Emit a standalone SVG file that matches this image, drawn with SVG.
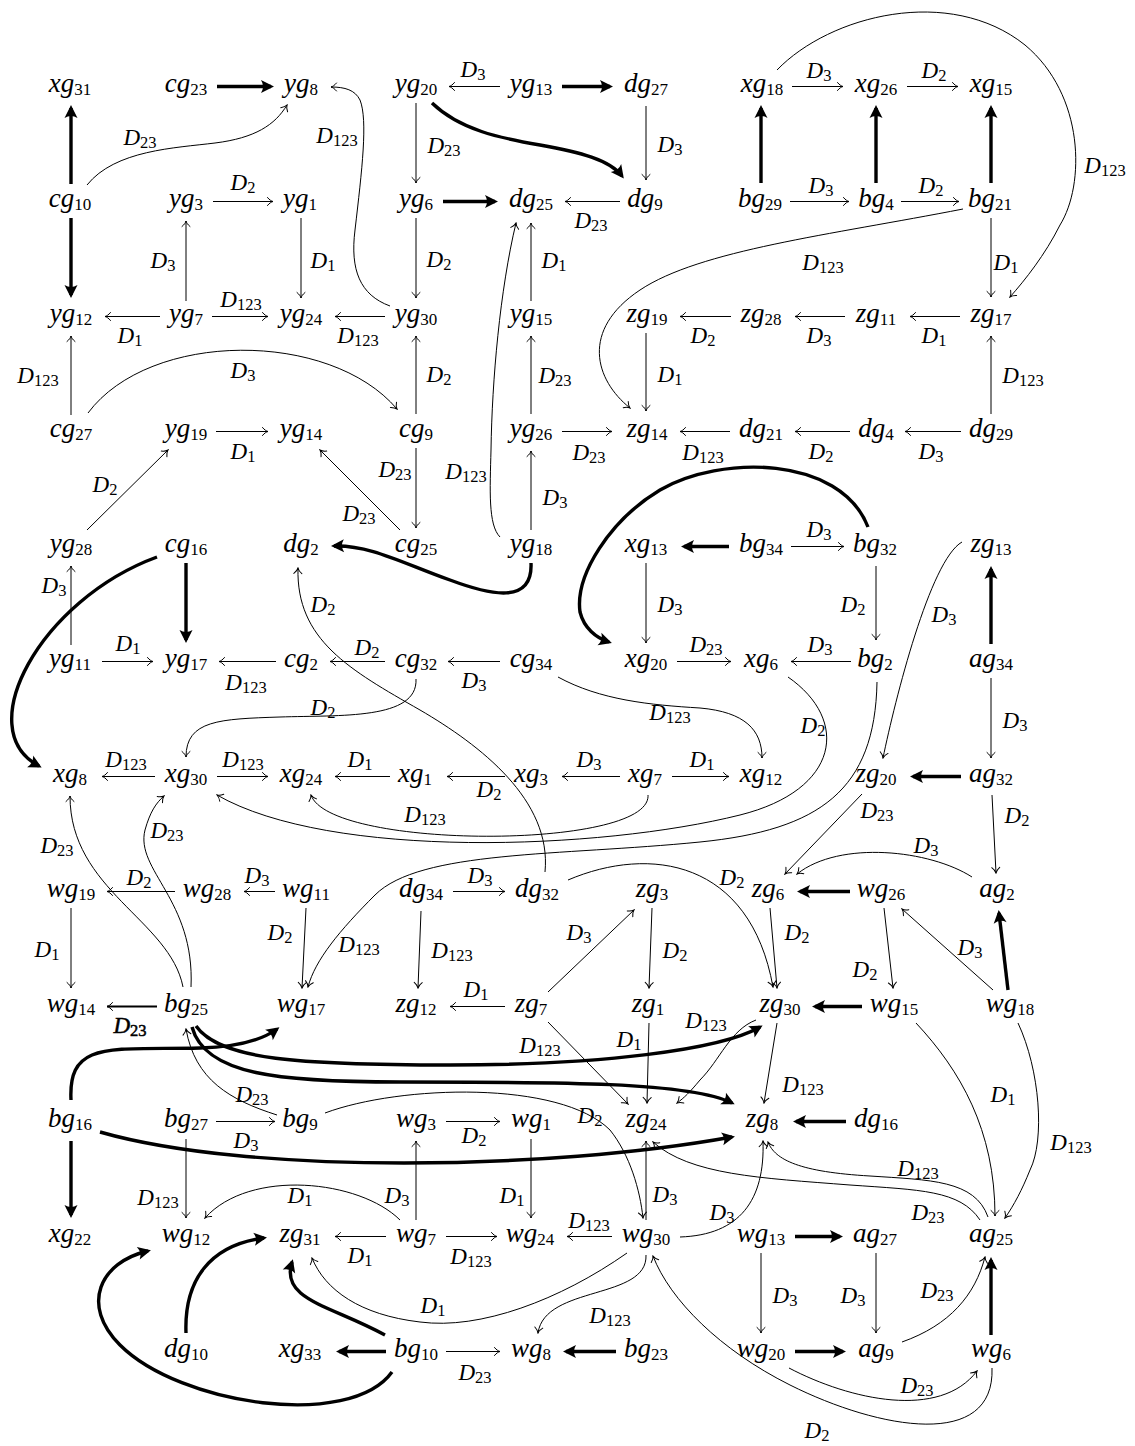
<svg xmlns="http://www.w3.org/2000/svg" width="1135" height="1446" viewBox="0 0 1135 1446">
<style>
.n{font-family:"Liberation Serif","Times New Roman",serif;font-style:italic;font-size:27px;text-anchor:middle;fill:#000}
.n tspan{font-style:normal;font-size:17px}
.l{font-family:"Liberation Serif","Times New Roman",serif;font-style:italic;font-size:23px;text-anchor:middle;fill:#000}
.l tspan{font-style:normal;font-size:16.5px}
.t{fill:none;stroke:#000;stroke-width:1;marker-end:url(#a)}
.m{fill:none;stroke:#000;stroke-width:1.8;marker-end:url(#a)}
.k{fill:none;stroke:#000;stroke-width:3.4;marker-end:url(#b)}
</style>
<defs>
<marker id="a" viewBox="-7 -5 8 10" refX="0" refY="0" markerWidth="8" markerHeight="10" orient="auto" markerUnits="userSpaceOnUse"><path d="M-5.5,-4 C-3.5,-1.5 -1.5,-0.4 0,0 C-1.5,0.4 -3.5,1.5 -5.5,4" fill="none" stroke="#000" stroke-width="1" stroke-linecap="round"/></marker>
<marker id="b" viewBox="-12 -8 16 16" refX="0" refY="0" markerWidth="16" markerHeight="16" orient="auto" markerUnits="userSpaceOnUse"><path d="M3,0 L-10,-6.5 Q-6,0 -10,6.5 Z" fill="#000"/></marker>
</defs>
<rect width="1135" height="1446" fill="#fff"/>
<g id="edges">
<path class="k" d="M71,184 L71,108"/>
<path class="k" d="M217,86.5 L271,86.5"/>
<path class="t" d="M87,185 C115,150 175,148 215,143 C255,138 275,125 287,105"/>
<path class="t" d="M390,306 C360,295 350,270 355,230 C362,170 368,120 360,100 C355,90 345,87 331,87"/>
<path class="t" d="M500,86.5 L449,86.5"/>
<path class="k" d="M562,86.5 L610,86.5"/>
<path class="k" d="M432,103 C460,130 500,138 540,145 C580,152 610,160 622,176"/>
<path class="t" d="M646,106 L646,180"/>
<path class="t" d="M416,103 L416,183"/>
<path class="t" d="M792,86.5 L843,86.5"/>
<path class="t" d="M907,86.5 L958,86.5"/>
<path class="k" d="M761,183 L761,108"/>
<path class="k" d="M876,183 L876,108"/>
<path class="k" d="M991,183 L991,108"/>
<path class="t" d="M777,70 C830,15 950,-15 1025,45 C1085,95 1085,185 1060,225 C1045,255 1025,280 1010,297"/>
<path class="t" d="M213,201.5 L273,201.5"/>
<path class="k" d="M443,201.5 L495,201.5"/>
<path class="t" d="M620,201.5 L565,201.5"/>
<path class="t" d="M790,201.5 L849,201.5"/>
<path class="t" d="M901,201.5 L959,201.5"/>
<path class="t" d="M963,209 C830,235 700,250 640,290 C580,330 595,380 630,408"/>
<path class="t" d="M301,218 L301,298"/>
<path class="t" d="M416,218 L416,298"/>
<path class="t" d="M186,301 L186,221"/>
<path class="k" d="M71,218 L71,295"/>
<path class="t" d="M531,301 L531,223"/>
<path class="t" d="M500,537 C488,525 490,490 491,450 C492,380 500,290 516,223"/>
<path class="t" d="M991,218 L991,297"/>
<path class="t" d="M160,316.5 L105,316.5"/>
<path class="t" d="M212,316.5 L268,316.5"/>
<path class="t" d="M385,316.5 L335,316.5"/>
<path class="t" d="M71,415 L71,336"/>
<path class="t" d="M88,413 C150,330 330,330 397,409"/>
<path class="t" d="M416,414 L416,336"/>
<path class="t" d="M531,414 L531,336"/>
<path class="t" d="M646,333 L646,411"/>
<path class="t" d="M731,316.5 L680,316.5"/>
<path class="t" d="M845,316.5 L795,316.5"/>
<path class="t" d="M960,316.5 L910,316.5"/>
<path class="t" d="M991,414 L991,336"/>
<path class="t" d="M216,431.5 L268,431.5"/>
<path class="t" d="M400,530 L320,450"/>
<path class="t" d="M416,448 L416,528"/>
<path class="t" d="M562,431.5 L612,431.5"/>
<path class="t" d="M730,431.5 L680,431.5"/>
<path class="t" d="M850,431.5 L795,431.5"/>
<path class="t" d="M961,431.5 L905,431.5"/>
<path class="t" d="M531,530 L531,451"/>
<path class="t" d="M87,530 L168,450"/>
<path class="t" d="M71,645 L71,566"/>
<path class="k" d="M186,563 L186,640"/>
<path class="k" d="M157,557 C40,600 -30,730 39,766"/>
<path class="k" d="M531,563 C533,605 490,595 450,580 C400,562 370,545 334,546"/>
<path class="k" d="M729,546.5 L684,546.5"/>
<path class="t" d="M791,546.5 L844,546.5"/>
<path class="k" d="M868,527 C840,455 720,455 660,490 C610,520 575,575 580,612 C584,628 596,638 609,642"/>
<path class="t" d="M646,563 L646,643"/>
<path class="t" d="M876,566 L876,640"/>
<path class="k" d="M991,644 L991,569"/>
<path class="t" d="M962,542 C930,560 895,700 883,758"/>
<path class="t" d="M102,661.5 L153,661.5"/>
<path class="t" d="M276,661.5 L219,661.5"/>
<path class="t" d="M385,661.5 L330,661.5"/>
<path class="t" d="M500,661.5 L448,661.5"/>
<path class="t" d="M677,661.5 L731,661.5"/>
<path class="t" d="M851,661.5 L791,661.5"/>
<path class="t" d="M991,678 L991,758"/>
<path class="t" d="M558,677 C600,700 650,705 700,708 C745,712 762,730 762,758"/>
<path class="t" d="M545,872 C552,800 480,745 420,710 C350,670 296,640 298,568"/>
<path class="t" d="M416,679 C418,720 340,715 280,717 C220,719 186,720 186,757"/>
<path class="t" d="M155,776.5 L102,776.5"/>
<path class="t" d="M217,776.5 L268,776.5"/>
<path class="t" d="M390,776.5 L335,776.5"/>
<path class="t" d="M505,776.5 L447,776.5"/>
<path class="t" d="M620,776.5 L562,776.5"/>
<path class="t" d="M672,776.5 L729,776.5"/>
<path class="k" d="M961,776.5 L913,776.5"/>
<path class="t" d="M648,795 C652,850 330,850 311,795"/>
<path class="t" d="M788,677 C850,720 840,790 740,815 C600,850 330,860 217,795"/>
<path class="t" d="M877,682 C875,790 820,830 700,842 C560,856 420,850 375,895 C340,930 315,960 308,987"/>
<path class="t" d="M992,795 L996,873"/>
<path class="t" d="M862,794 L785,874"/>
<path class="t" d="M175,891.5 L107,891.5"/>
<path class="t" d="M275,891.5 L244,891.5"/>
<path class="t" d="M71,908 L71,988"/>
<path class="t" d="M306,908 L302,988"/>
<path class="t" d="M453,891.5 L505,891.5"/>
<path class="t" d="M421,911 L418,988"/>
<path class="t" d="M652,908 L649,988"/>
<path class="t" d="M548,992 L634,910"/>
<path class="k" d="M850,891.5 L800,891.5"/>
<path class="t" d="M972,877 C930,850 840,840 797,874"/>
<path class="t" d="M568,880 C650,845 750,860 773,987"/>
<path class="t" d="M770,908 L777,988"/>
<path class="t" d="M884,908 L893,988"/>
<path class="t" d="M993,990 L902,909"/>
<path class="k" d="M1008,990 L999,913"/>
<path class="t" d="M183,987 C170,920 70,890 70,796"/>
<path class="t" d="M191,987 C195,900 135,870 145,830 C150,812 156,803 164,796"/>
<path class="m" d="M157,1006.5 L107,1006.5"/>
<path class="t" d="M505,1006.5 L450,1006.5"/>
<path class="t" d="M649,1023 L647,1103"/>
<path class="t" d="M548,1022 L628,1104"/>
<path class="t" d="M756,1020 C730,1030 720,1060 700,1080 C690,1092 684,1098 677,1103"/>
<path class="k" d="M862,1006.5 L815,1006.5"/>
<path class="t" d="M777,1023 L764,1103"/>
<path class="t" d="M916,1023 C960,1070 995,1130 995,1216"/>
<path class="t" d="M1018,1023 C1040,1070 1045,1140 1030,1170 C1022,1190 1014,1205 1005,1218"/>
<path class="k" d="M196,1026 C220,1060 300,1065 450,1065 C600,1065 720,1050 760,1027"/>
<path class="k" d="M192,1027 C205,1075 280,1082 400,1082 C560,1082 690,1082 732,1103"/>
<path class="k" d="M71,1100 C68,1040 110,1050 200,1048 C240,1047 262,1040 277,1029"/>
<path class="t" d="M277,1115 C230,1100 195,1080 186,1029"/>
<path class="t" d="M216,1121.5 L275,1121.5"/>
<path class="t" d="M325,1113 C400,1085 560,1080 610,1130 C630,1155 640,1190 643,1218"/>
<path class="k" d="M100,1132 C250,1175 550,1170 732,1137"/>
<path class="k" d="M71,1141 L71,1215"/>
<path class="t" d="M186,1139 L186,1218"/>
<path class="t" d="M446,1121.5 L500,1121.5"/>
<path class="t" d="M416,1220 L416,1141"/>
<path class="t" d="M531,1139 L531,1218"/>
<path class="t" d="M646,1220 L646,1141"/>
<path class="t" d="M680,1237 C740,1235 765,1200 763,1141"/>
<path class="k" d="M846,1121.5 L796,1121.5"/>
<path class="t" d="M988,1217 C975,1180 930,1180 870,1176 C800,1172 775,1160 768,1142"/>
<path class="t" d="M980,1220 C960,1190 920,1190 850,1185 C760,1178 690,1175 653,1142"/>
<path class="t" d="M386,1236.5 L335,1236.5"/>
<path class="t" d="M446,1236.5 L497,1236.5"/>
<path class="t" d="M612,1236.5 L567,1236.5"/>
<path class="k" d="M795,1236.5 L840,1236.5"/>
<path class="t" d="M400,1220 C360,1180 250,1168 205,1218"/>
<path class="t" d="M627,1253 C560,1300 480,1330 420,1322 C360,1315 325,1290 312,1258"/>
<path class="t" d="M646,1255 C648,1300 545,1285 538,1333"/>
<path class="t" d="M761,1253 L761,1333"/>
<path class="t" d="M876,1253 L876,1333"/>
<path class="k" d="M991,1335 L991,1260"/>
<path class="t" d="M902,1342 C950,1325 975,1295 985,1257"/>
<path class="k" d="M795,1351.5 L843,1351.5"/>
<path class="t" d="M789,1368 C850,1400 940,1420 977,1371"/>
<path class="t" d="M992,1368 C995,1450 880,1430 790,1385 C720,1350 670,1300 653,1256"/>
<path class="k" d="M386,1351.5 L339,1351.5"/>
<path class="t" d="M446,1351.5 L500,1351.5"/>
<path class="k" d="M616,1351.5 L566,1351.5"/>
<path class="k" d="M385,1335 C330,1305 280,1300 292,1262"/>
<path class="k" d="M392,1372 C350,1430 180,1405 120,1345 C80,1305 100,1262 148,1251"/>
<path class="k" d="M186,1333 C184,1280 210,1245 264,1238"/>
</g>
<g id="labels">
<text class="l" x="140" y="145">D<tspan dy="3">23</tspan></text>
<text class="l" x="337" y="143">D<tspan dy="3">123</tspan></text>
<text class="l" x="473" y="77">D<tspan dy="3">3</tspan></text>
<text class="l" x="670" y="152">D<tspan dy="3">3</tspan></text>
<text class="l" x="444" y="153">D<tspan dy="3">23</tspan></text>
<text class="l" x="819" y="78">D<tspan dy="3">3</tspan></text>
<text class="l" x="934" y="78">D<tspan dy="3">2</tspan></text>
<text class="l" x="1105" y="173">D<tspan dy="3">123</tspan></text>
<text class="l" x="243" y="190">D<tspan dy="3">2</tspan></text>
<text class="l" x="591" y="228">D<tspan dy="3">23</tspan></text>
<text class="l" x="821" y="193">D<tspan dy="3">3</tspan></text>
<text class="l" x="931" y="193">D<tspan dy="3">2</tspan></text>
<text class="l" x="823" y="270">D<tspan dy="3">123</tspan></text>
<text class="l" x="323" y="268">D<tspan dy="3">1</tspan></text>
<text class="l" x="439" y="267">D<tspan dy="3">2</tspan></text>
<text class="l" x="163" y="268">D<tspan dy="3">3</tspan></text>
<text class="l" x="554" y="268">D<tspan dy="3">1</tspan></text>
<text class="l" x="466" y="479">D<tspan dy="3">123</tspan></text>
<text class="l" x="1006" y="270">D<tspan dy="3">1</tspan></text>
<text class="l" x="130" y="343">D<tspan dy="3">1</tspan></text>
<text class="l" x="241" y="307">D<tspan dy="3">123</tspan></text>
<text class="l" x="358" y="343">D<tspan dy="3">123</tspan></text>
<text class="l" x="38" y="383">D<tspan dy="3">123</tspan></text>
<text class="l" x="243" y="378">D<tspan dy="3">3</tspan></text>
<text class="l" x="439" y="382">D<tspan dy="3">2</tspan></text>
<text class="l" x="555" y="383">D<tspan dy="3">23</tspan></text>
<text class="l" x="670" y="382">D<tspan dy="3">1</tspan></text>
<text class="l" x="703" y="343">D<tspan dy="3">2</tspan></text>
<text class="l" x="819" y="343">D<tspan dy="3">3</tspan></text>
<text class="l" x="934" y="343">D<tspan dy="3">1</tspan></text>
<text class="l" x="1023" y="383">D<tspan dy="3">123</tspan></text>
<text class="l" x="243" y="459">D<tspan dy="3">1</tspan></text>
<text class="l" x="359" y="521">D<tspan dy="3">23</tspan></text>
<text class="l" x="395" y="477">D<tspan dy="3">23</tspan></text>
<text class="l" x="589" y="460">D<tspan dy="3">23</tspan></text>
<text class="l" x="703" y="460">D<tspan dy="3">123</tspan></text>
<text class="l" x="821" y="459">D<tspan dy="3">2</tspan></text>
<text class="l" x="931" y="459">D<tspan dy="3">3</tspan></text>
<text class="l" x="555" y="505">D<tspan dy="3">3</tspan></text>
<text class="l" x="105" y="492">D<tspan dy="3">2</tspan></text>
<text class="l" x="54" y="593">D<tspan dy="3">3</tspan></text>
<text class="l" x="819" y="537">D<tspan dy="3">3</tspan></text>
<text class="l" x="670" y="612">D<tspan dy="3">3</tspan></text>
<text class="l" x="853" y="612">D<tspan dy="3">2</tspan></text>
<text class="l" x="944" y="622">D<tspan dy="3">3</tspan></text>
<text class="l" x="128" y="651">D<tspan dy="3">1</tspan></text>
<text class="l" x="246" y="690">D<tspan dy="3">123</tspan></text>
<text class="l" x="367" y="655">D<tspan dy="3">2</tspan></text>
<text class="l" x="474" y="688">D<tspan dy="3">3</tspan></text>
<text class="l" x="706" y="652">D<tspan dy="3">23</tspan></text>
<text class="l" x="820" y="652">D<tspan dy="3">3</tspan></text>
<text class="l" x="1015" y="728">D<tspan dy="3">3</tspan></text>
<text class="l" x="670" y="720">D<tspan dy="3">123</tspan></text>
<text class="l" x="323" y="612">D<tspan dy="3">2</tspan></text>
<text class="l" x="323" y="715">D<tspan dy="3">2</tspan></text>
<text class="l" x="126" y="767">D<tspan dy="3">123</tspan></text>
<text class="l" x="243" y="767">D<tspan dy="3">123</tspan></text>
<text class="l" x="360" y="767">D<tspan dy="3">1</tspan></text>
<text class="l" x="489" y="797">D<tspan dy="3">2</tspan></text>
<text class="l" x="589" y="767">D<tspan dy="3">3</tspan></text>
<text class="l" x="702" y="767">D<tspan dy="3">1</tspan></text>
<text class="l" x="425" y="822">D<tspan dy="3">123</tspan></text>
<text class="l" x="813" y="733">D<tspan dy="3">2</tspan></text>
<text class="l" x="359" y="952">D<tspan dy="3">123</tspan></text>
<text class="l" x="1017" y="823">D<tspan dy="3">2</tspan></text>
<text class="l" x="877" y="818">D<tspan dy="3">23</tspan></text>
<text class="l" x="139" y="885">D<tspan dy="3">2</tspan></text>
<text class="l" x="257" y="883">D<tspan dy="3">3</tspan></text>
<text class="l" x="47" y="957">D<tspan dy="3">1</tspan></text>
<text class="l" x="280" y="940">D<tspan dy="3">2</tspan></text>
<text class="l" x="480" y="883">D<tspan dy="3">3</tspan></text>
<text class="l" x="452" y="958">D<tspan dy="3">123</tspan></text>
<text class="l" x="675" y="958">D<tspan dy="3">2</tspan></text>
<text class="l" x="579" y="940">D<tspan dy="3">3</tspan></text>
<text class="l" x="926" y="853">D<tspan dy="3">3</tspan></text>
<text class="l" x="732" y="885">D<tspan dy="3">2</tspan></text>
<text class="l" x="797" y="940">D<tspan dy="3">2</tspan></text>
<text class="l" x="865" y="977">D<tspan dy="3">2</tspan></text>
<text class="l" x="970" y="955">D<tspan dy="3">3</tspan></text>
<text class="l" x="57" y="853">D<tspan dy="3">23</tspan></text>
<text class="l" x="167" y="838">D<tspan dy="3">23</tspan></text>
<text class="l" x="130" y="1033" stroke="#000" stroke-width="0.5">D<tspan dy="3">23</tspan></text>
<text class="l" x="476" y="997">D<tspan dy="3">1</tspan></text>
<text class="l" x="629" y="1047">D<tspan dy="3">1</tspan></text>
<text class="l" x="540" y="1053">D<tspan dy="3">123</tspan></text>
<text class="l" x="706" y="1028">D<tspan dy="3">123</tspan></text>
<text class="l" x="803" y="1092">D<tspan dy="3">123</tspan></text>
<text class="l" x="1003" y="1102">D<tspan dy="3">1</tspan></text>
<text class="l" x="1071" y="1150">D<tspan dy="3">123</tspan></text>
<text class="l" x="252" y="1102">D<tspan dy="3">23</tspan></text>
<text class="l" x="246" y="1148">D<tspan dy="3">3</tspan></text>
<text class="l" x="590" y="1123">D<tspan dy="3">2</tspan></text>
<text class="l" x="158" y="1205">D<tspan dy="3">123</tspan></text>
<text class="l" x="474" y="1143">D<tspan dy="3">2</tspan></text>
<text class="l" x="397" y="1203">D<tspan dy="3">3</tspan></text>
<text class="l" x="512" y="1203">D<tspan dy="3">1</tspan></text>
<text class="l" x="665" y="1202">D<tspan dy="3">3</tspan></text>
<text class="l" x="722" y="1220">D<tspan dy="3">3</tspan></text>
<text class="l" x="918" y="1176">D<tspan dy="3">123</tspan></text>
<text class="l" x="928" y="1220">D<tspan dy="3">23</tspan></text>
<text class="l" x="360" y="1263">D<tspan dy="3">1</tspan></text>
<text class="l" x="471" y="1264">D<tspan dy="3">123</tspan></text>
<text class="l" x="589" y="1228">D<tspan dy="3">123</tspan></text>
<text class="l" x="300" y="1203">D<tspan dy="3">1</tspan></text>
<text class="l" x="433" y="1313">D<tspan dy="3">1</tspan></text>
<text class="l" x="610" y="1323">D<tspan dy="3">123</tspan></text>
<text class="l" x="785" y="1303">D<tspan dy="3">3</tspan></text>
<text class="l" x="853" y="1303">D<tspan dy="3">3</tspan></text>
<text class="l" x="937" y="1298">D<tspan dy="3">23</tspan></text>
<text class="l" x="917" y="1393">D<tspan dy="3">23</tspan></text>
<text class="l" x="817" y="1438">D<tspan dy="3">2</tspan></text>
<text class="l" x="475" y="1380">D<tspan dy="3">23</tspan></text>
</g>
<g id="n-xg31"><text class="n" x="70" y="92">xg<tspan dy="3">31</tspan></text></g>
<g id="n-cg23"><text class="n" x="186" y="92">cg<tspan dy="3">23</tspan></text></g>
<g id="n-yg8"><text class="n" x="301" y="92">yg<tspan dy="3">8</tspan></text></g>
<g id="n-yg20"><text class="n" x="416" y="92">yg<tspan dy="3">20</tspan></text></g>
<g id="n-yg13"><text class="n" x="531" y="92">yg<tspan dy="3">13</tspan></text></g>
<g id="n-dg27"><text class="n" x="646" y="92">dg<tspan dy="3">27</tspan></text></g>
<g id="n-xg18"><text class="n" x="762" y="92">xg<tspan dy="3">18</tspan></text></g>
<g id="n-xg26"><text class="n" x="876" y="92">xg<tspan dy="3">26</tspan></text></g>
<g id="n-xg15"><text class="n" x="991" y="92">xg<tspan dy="3">15</tspan></text></g>
<g id="n-cg10"><text class="n" x="70" y="207">cg<tspan dy="3">10</tspan></text></g>
<g id="n-yg3"><text class="n" x="186" y="207">yg<tspan dy="3">3</tspan></text></g>
<g id="n-yg1"><text class="n" x="300" y="207">yg<tspan dy="3">1</tspan></text></g>
<g id="n-yg6"><text class="n" x="416" y="207">yg<tspan dy="3">6</tspan></text></g>
<g id="n-dg25"><text class="n" x="531" y="207">dg<tspan dy="3">25</tspan></text></g>
<g id="n-dg9"><text class="n" x="645" y="207">dg<tspan dy="3">9</tspan></text></g>
<g id="n-bg29"><text class="n" x="760" y="207">bg<tspan dy="3">29</tspan></text></g>
<g id="n-bg4"><text class="n" x="876" y="207">bg<tspan dy="3">4</tspan></text></g>
<g id="n-bg21"><text class="n" x="990" y="207">bg<tspan dy="3">21</tspan></text></g>
<g id="n-yg12"><text class="n" x="71" y="322">yg<tspan dy="3">12</tspan></text></g>
<g id="n-yg7"><text class="n" x="186" y="322">yg<tspan dy="3">7</tspan></text></g>
<g id="n-yg24"><text class="n" x="301" y="322">yg<tspan dy="3">24</tspan></text></g>
<g id="n-yg30"><text class="n" x="416" y="322">yg<tspan dy="3">30</tspan></text></g>
<g id="n-yg15"><text class="n" x="531" y="322">yg<tspan dy="3">15</tspan></text></g>
<g id="n-zg19"><text class="n" x="647" y="322">zg<tspan dy="3">19</tspan></text></g>
<g id="n-zg28"><text class="n" x="761" y="322">zg<tspan dy="3">28</tspan></text></g>
<g id="n-zg11"><text class="n" x="876" y="322">zg<tspan dy="3">11</tspan></text></g>
<g id="n-zg17"><text class="n" x="991" y="322">zg<tspan dy="3">17</tspan></text></g>
<g id="n-cg27"><text class="n" x="71" y="437">cg<tspan dy="3">27</tspan></text></g>
<g id="n-yg19"><text class="n" x="186" y="437">yg<tspan dy="3">19</tspan></text></g>
<g id="n-yg14"><text class="n" x="301" y="437">yg<tspan dy="3">14</tspan></text></g>
<g id="n-cg9"><text class="n" x="416" y="437">cg<tspan dy="3">9</tspan></text></g>
<g id="n-yg26"><text class="n" x="531" y="437">yg<tspan dy="3">26</tspan></text></g>
<g id="n-zg14"><text class="n" x="647" y="437">zg<tspan dy="3">14</tspan></text></g>
<g id="n-dg21"><text class="n" x="761" y="437">dg<tspan dy="3">21</tspan></text></g>
<g id="n-dg4"><text class="n" x="876" y="437">dg<tspan dy="3">4</tspan></text></g>
<g id="n-dg29"><text class="n" x="991" y="437">dg<tspan dy="3">29</tspan></text></g>
<g id="n-yg28"><text class="n" x="71" y="552">yg<tspan dy="3">28</tspan></text></g>
<g id="n-cg16"><text class="n" x="186" y="552">cg<tspan dy="3">16</tspan></text></g>
<g id="n-dg2"><text class="n" x="301" y="552">dg<tspan dy="3">2</tspan></text></g>
<g id="n-cg25"><text class="n" x="416" y="552">cg<tspan dy="3">25</tspan></text></g>
<g id="n-yg18"><text class="n" x="531" y="552">yg<tspan dy="3">18</tspan></text></g>
<g id="n-xg13"><text class="n" x="646" y="552">xg<tspan dy="3">13</tspan></text></g>
<g id="n-bg34"><text class="n" x="761" y="552">bg<tspan dy="3">34</tspan></text></g>
<g id="n-bg32"><text class="n" x="875" y="552">bg<tspan dy="3">32</tspan></text></g>
<g id="n-zg13"><text class="n" x="991" y="552">zg<tspan dy="3">13</tspan></text></g>
<g id="n-yg11"><text class="n" x="70" y="667">yg<tspan dy="3">11</tspan></text></g>
<g id="n-yg17"><text class="n" x="186" y="667">yg<tspan dy="3">17</tspan></text></g>
<g id="n-cg2"><text class="n" x="301" y="667">cg<tspan dy="3">2</tspan></text></g>
<g id="n-cg32"><text class="n" x="416" y="667">cg<tspan dy="3">32</tspan></text></g>
<g id="n-cg34"><text class="n" x="531" y="667">cg<tspan dy="3">34</tspan></text></g>
<g id="n-xg20"><text class="n" x="646" y="667">xg<tspan dy="3">20</tspan></text></g>
<g id="n-xg6"><text class="n" x="761" y="667">xg<tspan dy="3">6</tspan></text></g>
<g id="n-bg2"><text class="n" x="875" y="667">bg<tspan dy="3">2</tspan></text></g>
<g id="n-ag34"><text class="n" x="991" y="667">ag<tspan dy="3">34</tspan></text></g>
<g id="n-xg8"><text class="n" x="70" y="782">xg<tspan dy="3">8</tspan></text></g>
<g id="n-xg30"><text class="n" x="186" y="782">xg<tspan dy="3">30</tspan></text></g>
<g id="n-xg24"><text class="n" x="301" y="782">xg<tspan dy="3">24</tspan></text></g>
<g id="n-xg1"><text class="n" x="415" y="782">xg<tspan dy="3">1</tspan></text></g>
<g id="n-xg3"><text class="n" x="531" y="782">xg<tspan dy="3">3</tspan></text></g>
<g id="n-xg7"><text class="n" x="645" y="782">xg<tspan dy="3">7</tspan></text></g>
<g id="n-xg12"><text class="n" x="761" y="782">xg<tspan dy="3">12</tspan></text></g>
<g id="n-zg20"><text class="n" x="876" y="782">zg<tspan dy="3">20</tspan></text></g>
<g id="n-ag32"><text class="n" x="991" y="782">ag<tspan dy="3">32</tspan></text></g>
<g id="n-wg19"><text class="n" x="71" y="897">wg<tspan dy="3">19</tspan></text></g>
<g id="n-wg28"><text class="n" x="207" y="897">wg<tspan dy="3">28</tspan></text></g>
<g id="n-wg11"><text class="n" x="306" y="897">wg<tspan dy="3">11</tspan></text></g>
<g id="n-dg34"><text class="n" x="421" y="897">dg<tspan dy="3">34</tspan></text></g>
<g id="n-dg32"><text class="n" x="537" y="897">dg<tspan dy="3">32</tspan></text></g>
<g id="n-zg3"><text class="n" x="652" y="897">zg<tspan dy="3">3</tspan></text></g>
<g id="n-zg6"><text class="n" x="768" y="897">zg<tspan dy="3">6</tspan></text></g>
<g id="n-wg26"><text class="n" x="881" y="897">wg<tspan dy="3">26</tspan></text></g>
<g id="n-ag2"><text class="n" x="997" y="897">ag<tspan dy="3">2</tspan></text></g>
<g id="n-wg14"><text class="n" x="71" y="1012">wg<tspan dy="3">14</tspan></text></g>
<g id="n-bg25"><text class="n" x="186" y="1012">bg<tspan dy="3">25</tspan></text></g>
<g id="n-wg17"><text class="n" x="301" y="1012">wg<tspan dy="3">17</tspan></text></g>
<g id="n-zg12"><text class="n" x="416" y="1012">zg<tspan dy="3">12</tspan></text></g>
<g id="n-zg7"><text class="n" x="531" y="1012">zg<tspan dy="3">7</tspan></text></g>
<g id="n-zg1"><text class="n" x="648" y="1012">zg<tspan dy="3">1</tspan></text></g>
<g id="n-zg30"><text class="n" x="780" y="1012">zg<tspan dy="3">30</tspan></text></g>
<g id="n-wg15"><text class="n" x="894" y="1012">wg<tspan dy="3">15</tspan></text></g>
<g id="n-wg18"><text class="n" x="1010" y="1012">wg<tspan dy="3">18</tspan></text></g>
<g id="n-bg16"><text class="n" x="70" y="1127">bg<tspan dy="3">16</tspan></text></g>
<g id="n-bg27"><text class="n" x="186" y="1127">bg<tspan dy="3">27</tspan></text></g>
<g id="n-bg9"><text class="n" x="300" y="1127">bg<tspan dy="3">9</tspan></text></g>
<g id="n-wg3"><text class="n" x="416" y="1127">wg<tspan dy="3">3</tspan></text></g>
<g id="n-wg1"><text class="n" x="531" y="1127">wg<tspan dy="3">1</tspan></text></g>
<g id="n-zg24"><text class="n" x="646" y="1127">zg<tspan dy="3">24</tspan></text></g>
<g id="n-zg8"><text class="n" x="762" y="1127">zg<tspan dy="3">8</tspan></text></g>
<g id="n-dg16"><text class="n" x="876" y="1127">dg<tspan dy="3">16</tspan></text></g>
<g id="n-xg22"><text class="n" x="70" y="1242">xg<tspan dy="3">22</tspan></text></g>
<g id="n-wg12"><text class="n" x="186" y="1242">wg<tspan dy="3">12</tspan></text></g>
<g id="n-zg31"><text class="n" x="300" y="1242">zg<tspan dy="3">31</tspan></text></g>
<g id="n-wg7"><text class="n" x="416" y="1242">wg<tspan dy="3">7</tspan></text></g>
<g id="n-wg24"><text class="n" x="530" y="1242">wg<tspan dy="3">24</tspan></text></g>
<g id="n-wg30"><text class="n" x="646" y="1242">wg<tspan dy="3">30</tspan></text></g>
<g id="n-wg13"><text class="n" x="761" y="1242">wg<tspan dy="3">13</tspan></text></g>
<g id="n-ag27"><text class="n" x="875" y="1242">ag<tspan dy="3">27</tspan></text></g>
<g id="n-ag25"><text class="n" x="991" y="1242">ag<tspan dy="3">25</tspan></text></g>
<g id="n-dg10"><text class="n" x="186" y="1357">dg<tspan dy="3">10</tspan></text></g>
<g id="n-xg33"><text class="n" x="300" y="1357">xg<tspan dy="3">33</tspan></text></g>
<g id="n-bg10"><text class="n" x="416" y="1357">bg<tspan dy="3">10</tspan></text></g>
<g id="n-wg8"><text class="n" x="531" y="1357">wg<tspan dy="3">8</tspan></text></g>
<g id="n-bg23"><text class="n" x="646" y="1357">bg<tspan dy="3">23</tspan></text></g>
<g id="n-wg20"><text class="n" x="761" y="1357">wg<tspan dy="3">20</tspan></text></g>
<g id="n-ag9"><text class="n" x="876" y="1357">ag<tspan dy="3">9</tspan></text></g>
<g id="n-wg6"><text class="n" x="991" y="1357">wg<tspan dy="3">6</tspan></text></g>
</svg>
